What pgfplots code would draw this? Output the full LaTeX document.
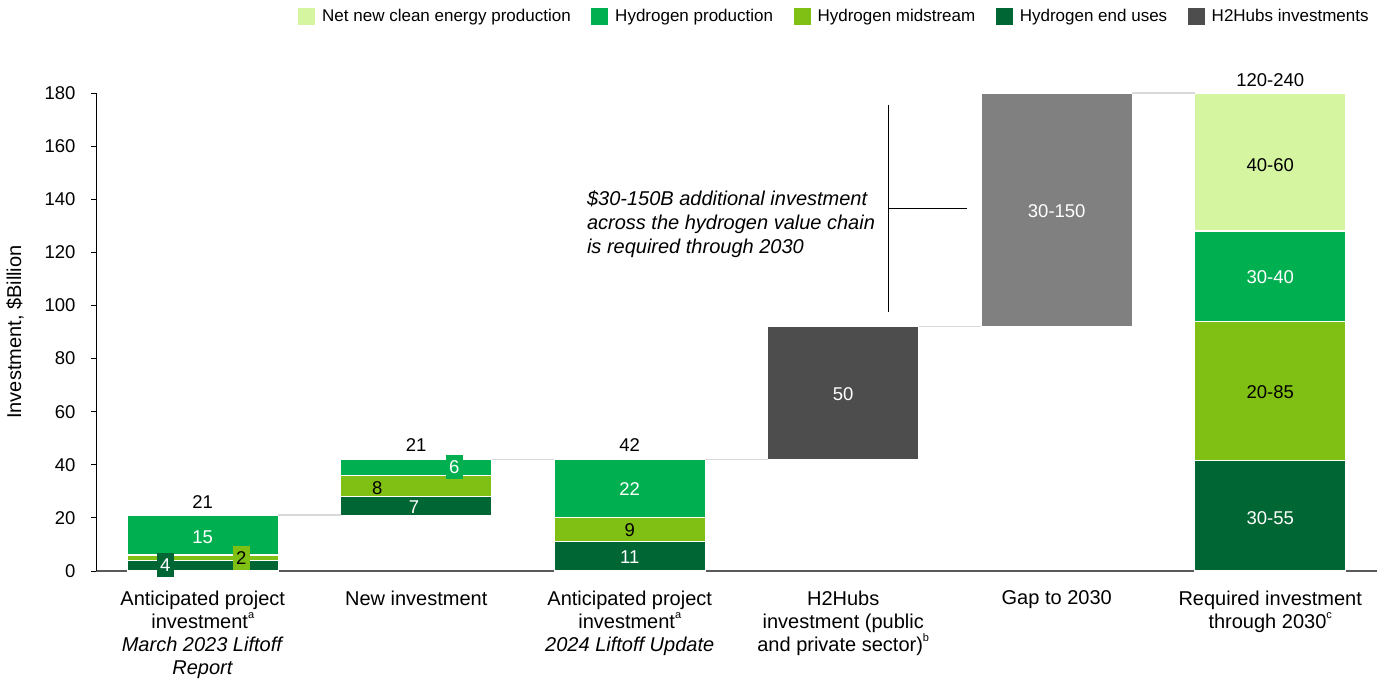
\documentclass[border=0pt]{standalone}
\usepackage{pgfplots}
\usepackage{pgfplotstable}
\pgfplotsset{compat=1.18}
\usepackage{fontspec}
\setmainfont{Liberation Sans}
\definecolor{cclean}{HTML}{D5F5A0}
\definecolor{cprod}{HTML}{00B050}
\definecolor{cmid}{HTML}{80C014}
\definecolor{cend}{HTML}{006633}
\definecolor{chubs}{HTML}{4D4D4D}
\definecolor{cgap}{HTML}{808080}
\definecolor{cconn}{HTML}{D9D9D9}
\pgfplotstableread{
x base end mid prod clean hubs gap
0 0 4 2 15 0 0 0
1 21 7 8 6 0 0 0
2 0 11 9 22 0 0 0
3 42 0 0 0 0 50 0
4 92 0 0 0 0 0 88
5 0 41.5 52.5 34 52 0 0
}\data
\newcommand{\fs}{\fontsize{18.5bp}{23.3bp}\selectfont}
\newcommand{\fc}{\fontsize{20bp}{23.3bp}\selectfont}
\newcommand{\fnsup}[1]{\raisebox{0.5em}{\fontsize{11bp}{11bp}\selectfont #1}}
\tikzset{vl/.style={font=\fs, inner sep=0pt}}
\begin{document}
\begin{tikzpicture}
\path[use as bounding box] (-96bp,-110bp) rectangle (1289bp,571bp);
\begin{axis}[
  at={(0,0)}, anchor=south west,
  width=1281bp, height=478bp, scale only axis,
  xmin=-0.5, xmax=5.5, ymin=0, ymax=180,
  clip=false,
  ybar stacked, bar width=0.707,
  axis x line*=bottom, axis y line*=left,
  x axis line style={draw=black!65, line width=1.5bp, -},
  y axis line style={draw=black, line width=0.8bp, -},
  xtick={0,1,2,3,4,5},
  xticklabels={
    {Anticipated project\\investment\fnsup{a}\\\textit{March 2023 Liftoff}\\\textit{Report}},
    {New investment},
    {Anticipated project\\investment\fnsup{a}\\\textit{2024 Liftoff Update}},
    {H2Hubs\\investment (public\\and private sector)\fnsup{b}},
    {Gap to 2030},
    {Required investment\\through 2030\fnsup{c}}},
  major x tick style={draw=none},
  xticklabel style={align=center, anchor=north, font=\fc, yshift=-11bp},
  ytick={0,20,...,180},
  tick align=outside, major tick length=5bp,
  major y tick style={draw=black, line width=0.8bp},
  yticklabel style={font=\fs, anchor=east, xshift=-12bp},
  /pgf/number format/assume math mode=true,
  ylabel={Investment, \$Billion},
  ylabel style={font=\fontsize{20bp}{24bp}\selectfont, at={(axis description cs:-0.0632,0.5)}, anchor=center},
  legend style={at={(axis description cs:0.9975,1.161)}, anchor=east,
    legend columns=-1, draw=none, fill=none,
    font=\fontsize{17bp}{20bp}\selectfont,
    /tikz/every odd column/.append style={column sep=5bp},
    /tikz/every even column/.append style={column sep=18.5bp},
    legend cell align=left},
  legend image code/.code={\fill[#1, draw=none] (0bp,-8.5bp) rectangle (17bp,8.5bp);},
  after end axis/.append code={
    \draw[cconn, line width=1.5bp] (axis cs:0.3535,21) -- (axis cs:0.6465,21);
    \draw[cconn, line width=1.5bp] (axis cs:1.3535,42) -- (axis cs:1.6465,42);
    \draw[cconn, line width=1.5bp] (axis cs:2.3535,42) -- (axis cs:2.6465,42);
    \draw[cconn, line width=1.5bp] (axis cs:3.3535,92) -- (axis cs:3.6465,92);
    \draw[cconn, line width=1.5bp] (axis cs:4.3535,180) -- (axis cs:4.6465,180);
    \draw[black, line width=0.8bp] (axis cs:3.213,175.5) -- (axis cs:3.213,97.7);
    \draw[black, line width=0.8bp] (axis cs:3.213,136.7) -- (axis cs:3.578,136.7);
    \node[anchor=west, align=left, font=\fontsize{20bp}{24bp}\selectfont\itshape, inner sep=0pt] at (axis cs:1.799,130.6)
      {\$30-150B additional investment\\across the hydrogen value chain\\is required through 2030};
    \node[vl] at (axis cs:0,26) {21};
    \node[vl, text=white] at (axis cs:0,12.9) {15};
    \node[vl, text=white, fill=cend, minimum width=17bp, minimum height=24bp] at (axis cs:-0.175,2.26) {4};
    \node[vl, text=black, fill=cmid, minimum width=17bp, minimum height=24bp] at (axis cs:0.18,4.9) {2};
    \node[vl] at (axis cs:1,47.4) {21};
    \node[vl, text=white, fill=cprod, minimum width=17bp, minimum height=24bp] at (axis cs:1.178,39.2) {6};
    \node[vl, text=black] at (axis cs:0.817,31.3) {8};
    \node[vl, text=white] at (axis cs:0.99,24.2) {7};
    \node[vl] at (axis cs:2,47.4) {42};
    \node[vl, text=white] at (axis cs:2,30.9) {22};
    \node[vl, text=black] at (axis cs:2,15.4) {9};
    \node[vl, text=white] at (axis cs:2,5.3) {11};
    \node[vl, text=white] at (axis cs:3,66.6) {50};
    \node[vl, text=white] at (axis cs:4,135.5) {30-150};
    \node[vl] at (axis cs:5,184.9) {120-240};
    \node[vl, text=black] at (axis cs:5,153) {40-60};
    \node[vl, text=white] at (axis cs:5,110.7) {30-40};
    \node[vl, text=black] at (axis cs:5,67.4) {20-85};
    \node[vl, text=white] at (axis cs:5,20) {30-55};
  },
]
\addplot[fill=none, draw=none, forget plot] table[x=x, y=base] {\data};
\addplot[fill=cend, draw=white, line width=1.2bp, forget plot] table[x=x, y=end] {\data};
\addplot[fill=cmid, draw=white, line width=1.2bp, forget plot] table[x=x, y=mid] {\data};
\addplot[fill=cprod, draw=white, line width=1.2bp, forget plot] table[x=x, y=prod] {\data};
\addplot[fill=cclean, draw=white, line width=1.2bp, forget plot] table[x=x, y=clean] {\data};
\addplot[fill=chubs, draw=white, line width=1.2bp, forget plot] table[x=x, y=hubs] {\data};
\addplot[fill=cgap, draw=white, line width=1.2bp, forget plot] table[x=x, y=gap] {\data};
\addlegendimage{fill=cclean}\addlegendentry{Net new clean energy production}
\addlegendimage{fill=cprod}\addlegendentry{Hydrogen production}
\addlegendimage{fill=cmid}\addlegendentry{Hydrogen midstream}
\addlegendimage{fill=cend}\addlegendentry{Hydrogen end uses}
\addlegendimage{fill=chubs}\addlegendentry{H2Hubs investments}
\end{axis}
\end{tikzpicture}
\end{document}
